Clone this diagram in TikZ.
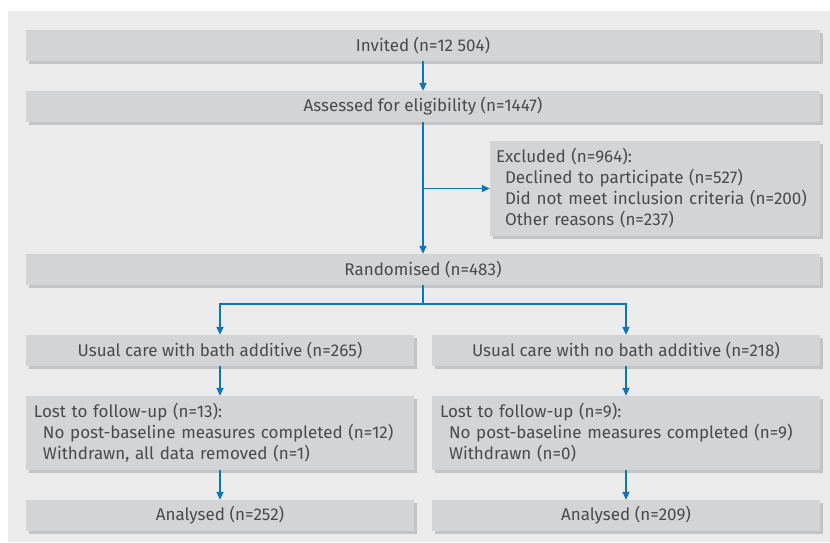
\documentclass[tikz,border=0pt]{standalone}
\usepackage{fontspec}
\setmainfont{Fira Sans}
\usetikzlibrary{arrows.meta}
\definecolor{panelgray}{HTML}{EBEBEB}
\definecolor{boxgray}{HTML}{D3D4D6}
\definecolor{shadowgray}{HTML}{C3C4C6}
\definecolor{txtgray}{HTML}{4A4A4C}
\definecolor{bmjblue}{HTML}{0C74BC}
\newcommand{\reason}{\hspace*{9pt}}
\begin{document}
\begin{tikzpicture}[x=1pt, y=-1pt, font=\fontsize{17}{21}\selectfont,
	box/.style = {fill=boxgray, text=txtgray, inner xsep=8pt, inner ysep=0pt, minimum height=31pt,
		preaction={fill=shadowgray, transform canvas={xshift=3pt, yshift=-3pt}}},
	wide/.style = {box, minimum width=794pt},
	half/.style = {box, minimum width=388pt},
	listbox/.style = {box, align=left},
	arr/.style = {draw=bmjblue, line width=1.6pt, -{Triangle[length=8pt, width=7pt]}}]
	\useasboundingbox (0,0) rectangle (830,542);
	\fill[white] (0,0) rectangle (830,542);
	\fill[panelgray] (8,11) rectangle (830,542);
	% top of the chart
	\node[wide] (invited) at (423,45.5) {Invited (n=12 504)};
	\node[wide] (assessed) at (423,106.5) {Assessed for eligibility (n=1447)};
	\node[listbox, inner xsep=6pt, text width=318pt, minimum height=95pt] (excluded) at (655,188.5)
		{Excluded (n=964):\\\reason Declined to participate (n=527)\\\reason Did not meet inclusion criteria (n=200)\\\reason Other reasons (n=237)};
	\node[wide] (random) at (423,269.5) {Randomised (n=483)};
	\coordinate (split) at (423,304);
	% two arms
	\node[half] (bath) at (220,350.5) {Usual care with bath additive (n=265)};
	\node[half] (nobath) at (626,350.5) {Usual care with no bath additive (n=218)};
	\node[listbox, text width=372pt, minimum height=74pt] (lostbath) at (220,433)
		{Lost to follow-up (n=13):\\\reason No post-baseline measures completed (n=12)\\\reason Withdrawn, all data removed (n=1)};
	\node[listbox, text width=372pt, minimum height=74pt] (lostnobath) at (626,433)
		{Lost to follow-up (n=9):\\\reason No post-baseline measures completed (n=9)\\\reason Withdrawn (n=0)};
	\node[half] (anabath) at (220,515.5) {Analysed (n=252)};
	\node[half] (ananobath) at (626,515.5) {Analysed (n=209)};
	\draw[arr] (invited) -- (assessed);
	\draw[arr] (assessed) -- (random);
	\draw[arr] (assessed.south |- excluded.west) -- (excluded.west);
	\draw[draw=bmjblue, line width=1.6pt] (random) -- (split);
	\draw[arr] (split) -| (bath);
	\draw[arr] (split) -| (nobath);
	\draw[arr] (bath) -- (lostbath);
	\draw[arr] (nobath) -- (lostnobath);
	\draw[arr] (lostbath) -- (anabath);
	\draw[arr] (lostnobath) -- (ananobath);
\end{tikzpicture}
\end{document}
